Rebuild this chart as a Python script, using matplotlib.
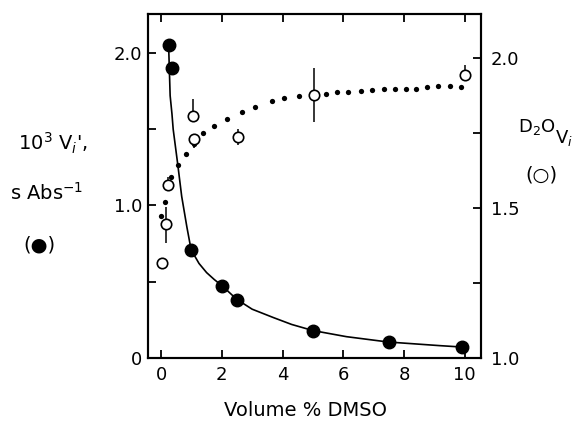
import numpy as np
import matplotlib
matplotlib.use("Agg")
import matplotlib.pyplot as plt
from matplotlib.ticker import FixedLocator

plt.rcParams['font.family'] = ['DejaVu Sans']
plt.rcParams['mathtext.fontset'] = 'dejavusans'

# filled circles: 10^3 Vi (left axis)
vol_filled = [0.25, 0.35, 1.0, 2.0, 2.5, 5.0, 7.5, 9.9]
vi_filled = [2.05, 1.90, 0.71, 0.47, 0.38, 0.18, 0.105, 0.072]

# fitted curve through the filled circles
curve_x = [0.25, 0.30, 0.36, 0.40, 0.55, 0.68, 0.85, 0.99, 1.25, 1.5, 1.75, 2.03, 2.49, 3.0,
           3.7, 4.3, 5.0, 6.1, 7.47, 9.18, 9.9]
curve_y = [2.05, 1.72, 1.60, 1.50, 1.27, 1.06, 0.86, 0.71, 0.62, 0.56, 0.515, 0.47, 0.385, 0.32,
           0.265, 0.22, 0.18, 0.14, 0.105, 0.081, 0.072]

# open circles: D2O Vi (right axis)
vol_open = [0.02, 0.15, 0.24, 1.06, 1.10, 2.54, 5.05, 10.0]
d2o_open = [1.316, 1.446, 1.577, 1.807, 1.729, 1.736, 1.877, 1.943]
err_lo = [0.0, 0.063, 0.0, 0.0, 0.03, 0.026, 0.09, 0.0]
err_hi = [0.0, 0.058, 0.027, 0.055, 0.0, 0.026, 0.09, 0.035]

# dotted theoretical curve (right axis)
dot_x = [0.0, 0.13, 0.33, 0.57, 0.81, 1.10, 1.39, 1.75, 2.16, 2.67, 3.09, 3.65, 4.06, 4.54, 5.05,
         5.43, 5.79, 6.15, 6.58, 6.93, 7.33, 7.69, 8.05, 8.41, 8.76, 9.13, 9.50, 9.87]
dot_y = [1.474, 1.521, 1.604, 1.643, 1.680, 1.715, 1.749, 1.774, 1.796, 1.819, 1.838, 1.856, 1.866, 1.874, 1.878,
         1.881, 1.886, 1.888, 1.890, 1.893, 1.896, 1.897, 1.898, 1.898, 1.904, 1.906, 1.906, 1.903]

fig = plt.figure(figsize=(5.78, 4.29), dpi=100)
ax = fig.add_axes([0.256, 0.1655, 0.576, 0.802])
ax2 = ax.twinx()

ax.plot(curve_x, curve_y, color='black', lw=1.2, zorder=2)
ax.plot(vol_filled, vi_filled, 'o', color='black', ms=9, zorder=3)

ax2.plot(dot_x, dot_y, 'o', color='black', ms=3.8, mew=0, zorder=2)
ax2.errorbar(vol_open, d2o_open, yerr=[err_lo, err_hi], fmt='o', ms=7.5,
             mfc='white', mec='black', mew=1.2, ecolor='black', elinewidth=1.1,
             capsize=0, zorder=3)

ax.set_xlim(-0.43, 10.53)
ax.set_ylim(0, 2.256)
ax2.set_ylim(1.0, 2.147)

ax.set_xticks([0, 2, 4, 6, 8, 10])
ax.set_yticks([0, 1.0, 2.0])
ax.set_yticklabels(['0', '1.0', '2.0'])
ax.yaxis.set_minor_locator(FixedLocator([0.5, 1.5]))
ax2.set_yticks([1.0, 1.5, 2.0])
ax2.set_yticklabels(['1.0', '1.5', '2.0'])
ax2.yaxis.set_minor_locator(FixedLocator([1.25, 1.75]))

ax.tick_params(axis='x', which='both', direction='in', top=True, length=6, width=1.3,
               labelsize=13, pad=6)
ax.tick_params(axis='y', which='both', direction='in', length=6, width=1.3,
               labelsize=13, pad=4)
ax2.tick_params(axis='y', which='both', direction='in', length=6, width=1.3,
                labelsize=13, pad=7)

for a in (ax, ax2):
    for s in a.spines.values():
        s.set_linewidth(1.5)

fig.text(305 / 578, 1 - 410 / 429, 'Volume % DMSO', fontsize=14, ha='center', va='center')

fig.text(53 / 578, 1 - 143 / 429, "10$^3$ V$_i$',", fontsize=14, ha='center', va='center')
fig.text(47 / 578, 1 - 193 / 429, 's Abs$^{-1}$', fontsize=14, ha='center', va='center')
fig.text(39 / 578, 1 - 245 / 429, '(●)', fontsize=14, ha='center', va='center')

fig.text(518 / 578, 1 - 127 / 429, 'D$_2$O', fontsize=13, ha='left', va='center')
fig.text(555 / 578, 1 - 138 / 429, 'V$_i$', fontsize=13, ha='left', va='center')
fig.text(541 / 578, 1 - 175 / 429, '(○)', fontsize=14, ha='center', va='center')

fig.savefig('out.png', dpi=100)
